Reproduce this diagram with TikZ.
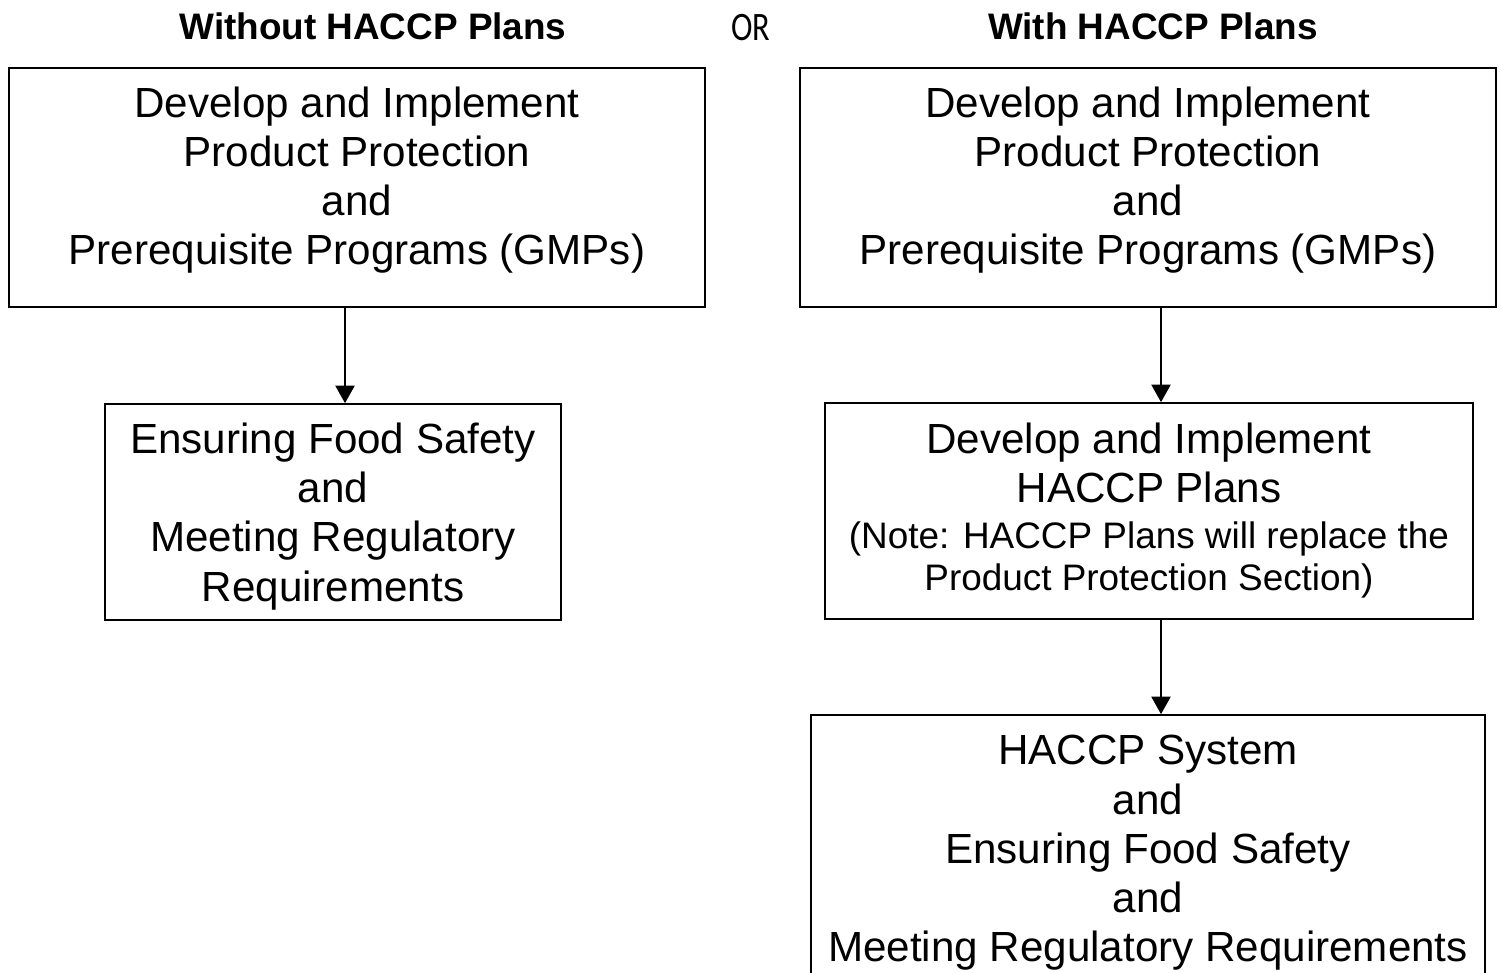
\documentclass[tikz,border=0pt]{standalone}
\usepackage{fontspec}
\setmainfont{Liberation Sans}
\newfontfamily\orfont[FakeStretch=0.8]{Carlito}
\usetikzlibrary{arrows.meta}

\begin{document}
\begin{tikzpicture}[x=0.02cm, y=-0.02cm, >={Triangle[width=11pt,length=10pt]}]
	\tikzstyle{every node}=[align=center, inner sep=0pt]
	\tikzstyle{box}=[draw, line width=1pt, font=\fontsize{24}{28}\selectfont]
	\tikzstyle{head}=[anchor=base, font=\fontsize{21}{25}\selectfont\bfseries]
	\useasboundingbox (0,0) rectangle (1502,973);
		\node[head] (without) at (373,40) {Without HACCP Plans};
		\node[anchor=base, font=\orfont\fontsize{23}{25}\selectfont] (or) at (751,41) {OR};
		\node[head] (with) at (1153,40) {With HACCP Plans};

		\node[box, minimum width=13.92cm, minimum height=4.78cm, text depth=13.5pt] (progl) at (357,187.5) {Develop and Implement\\Product Protection\\and\\Prerequisite Programs (GMPs)};
		\node[box, minimum width=13.92cm, minimum height=4.78cm, text depth=13.5pt] (progr) at (1148,187.5) {Develop and Implement\\Product Protection\\and\\Prerequisite Programs (GMPs)};
		\node[box, minimum width=9.12cm, minimum height=4.32cm, text depth=0pt] (safety) at (333,512) {Ensuring Food Safety\\and\\Meeting Regulatory\\Requirements};
		\node[box, minimum width=12.96cm, minimum height=4.32cm, font=\fontsize{21}{24}\selectfont] (plans) at (1149,511) {{\fontsize{24}{28}\selectfont Develop and Implement}\\[3.8pt]{\fontsize{24}{28}\selectfont HACCP Plans}\\[2.2pt](Note: HACCP Plans will replace the\\Product Protection Section)};
		\node[box, minimum width=13.48cm, minimum height=5.52cm] (system) at (1148,853) {HACCP System\\and\\Ensuring Food Safety\\and\\Meeting Regulatory Requirements};

		\coordinate (lcol) at (345,0);
		\coordinate (rcol) at (1161,0);
		\draw[->, line width=0.8pt] (progl.south -| lcol) -- (safety.north -| lcol);
		\draw[->, line width=0.8pt] (progr.south -| rcol) -- (plans.north -| rcol);
		\draw[->, line width=0.8pt] (plans.south -| rcol) -- (system.north -| rcol);
	\end{tikzpicture}
\end{document}
